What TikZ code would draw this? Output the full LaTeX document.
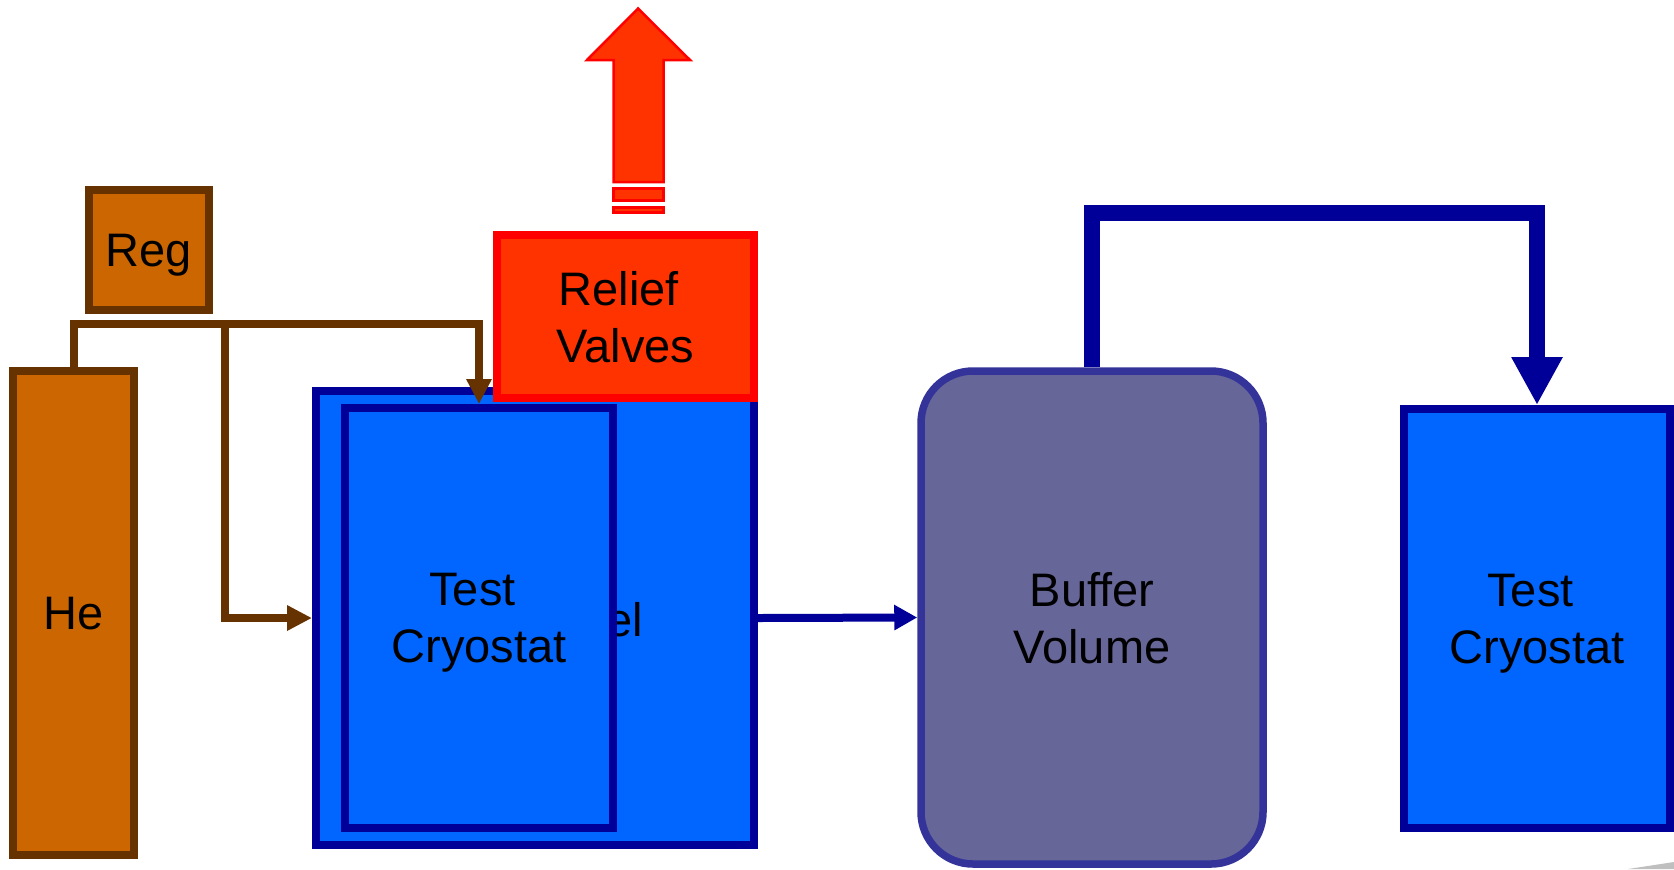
\documentclass[tikz,border=0pt]{standalone}
\usepackage{fontspec}
\setmainfont{Liberation Sans}
\usetikzlibrary{arrows.meta, positioning, calc}

\definecolor{heorange}{HTML}{CC6600}
\definecolor{hebrown}{HTML}{663300}
\definecolor{cryoblue}{HTML}{0066FF}
\definecolor{navy}{HTML}{000099}
\definecolor{reliefred}{HTML}{FF3300}
\definecolor{buffergrey}{HTML}{666699}
\definecolor{bufferedge}{HTML}{333399}

\newcommand{\tsp}{\hspace*{.28em}}

\begin{document}
\begin{tikzpicture}[
    x=0.5pt, y=-0.5pt,
    font=\fontsize{23.5}{28.5}\selectfont,
    box/.style={rectangle, line width=4pt, inner sep=0pt, align=center, text depth=-2pt},
    tank/.style={box, draw=hebrown, fill=heorange},
    cryo/.style={box, draw=navy, fill=cryoblue},
    relief/.style={box, draw=red, fill=reliefred},
    buffer/.style={box, rounded corners=26pt, draw=bufferedge, fill=buffergrey, line width=3.75pt},
    hepipe/.style={draw=hebrown, line width=4pt, -{Triangle[length=12.5pt, width=12pt]}},
    gaspipe/.style={draw=navy, line width=4pt, -{Triangle[length=11.5pt, width=12pt]}},
    bigpipe/.style={draw=navy, line width=8pt, -{Triangle[length=24pt, width=24pt]}}
]
\useasboundingbox (0,0) rectangle (1674,869);

\node [tank, minimum width=60.5pt, minimum height=242pt] (he) at (73.5,613) {He};
\node [tank, minimum width=60pt, minimum height=60pt] (reg) at (149,250) {Reg};

\node [cryo, minimum width=219pt, minimum height=227pt] (vessel) at (535,618) {};
\node [inner sep=0pt, anchor=base east] (vessellbl) at (643,636) {Vessel};
\node [cryo, minimum width=134pt, minimum height=210pt] (inner) at (479,618) {Test\tsp\\Cryostat};
\node [relief, minimum width=128.5pt, minimum height=81.5pt] (valves) at (625.5,316.5) {Relief\tsp\\Valves};

\node [buffer, minimum width=171pt, minimum height=246.5pt] (buf) at (1092,617.5) {Buffer\\Volume};
\node [cryo, minimum width=133pt, minimum height=209.5pt] (cryo2) at (1537,618.5) {Test\tsp\\Cryostat};

\coordinate (split) at (225,324);
\draw [hepipe] (he.north) |- (split) -| (inner.north);
\draw [hepipe] (split) |- (vessel.west);
\draw [gaspipe] (vessel.east) -- (buf.west);
\draw [bigpipe] (buf.north) -- ++(0,-154) -| (cryo2.north);

% vent
\draw [draw=red, fill=reliefred, line width=1.25pt] (613.5,182) -- (613.5,60) -- (587,60) -- (638,8.5) -- (690,60) -- (663.5,60) -- (663.5,182) -- cycle;
\draw [draw=red, fill=reliefred, line width=1.25pt] (613.5,188.5) rectangle (663.5,200.5);
\draw [draw=red, fill=reliefred, line width=1.25pt] (613.5,207.5) rectangle (663.5,212.5);

\fill [black!25] (1628,869) -- (1674,862) -- (1674,869) -- cycle;
\end{tikzpicture}
\end{document}
